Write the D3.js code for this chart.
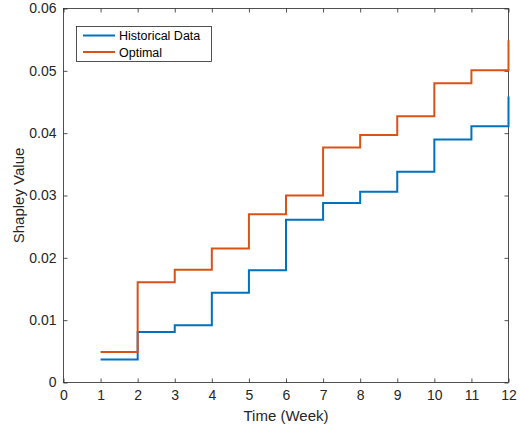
<!DOCTYPE html>
<html>
<head>
<meta charset="utf-8">
<script src="https://cdn.jsdelivr.net/npm/d3@7"></script>
<style>
  html, body { margin: 0; padding: 0; background: #fff; }
  svg { display: block; font-family: "Liberation Sans", Arial, Helvetica, sans-serif; }
</style>
</head>
<body>
<svg id="chart" width="520" height="431"></svg>
<script>
const weeks = [1, 2, 3, 4, 5, 6, 7, 8, 9, 10, 11, 12];
const historical = [0.0037, 0.0081, 0.0092, 0.0144, 0.0180, 0.0261, 0.0288, 0.0306, 0.0338, 0.0390, 0.0411, 0.0459];
const optimal = [0.0049, 0.0161, 0.0181, 0.0215, 0.0270, 0.0300, 0.0377, 0.0397, 0.0427, 0.0480, 0.0501, 0.0549];
const xTicks = [0, 1, 2, 3, 4, 5, 6, 7, 8, 9, 10, 11, 12];
const yTicks = [0, 0.01, 0.02, 0.03, 0.04, 0.05, 0.06];
const seriesNames = ["Historical Data", "Optimal"];
const seriesColors = ["#0072BD", "#D95319"];

(function () {
const svg = d3.select("#chart");
const pLeft = 63.5, pRight = 508.5, pTop = 8.5, pBottom = 382.5;
const x = d3.scaleLinear().domain([0, 12]).range([pLeft, pRight]);
const y = d3.scaleLinear().domain([0, 0.06]).range([pBottom, pTop]);
const axisColor = "#262626";

const gx = svg.append("g").attr("transform", `translate(0,${pBottom})`)
  .call(d3.axisBottom(x).tickValues(xTicks).tickFormat(d3.format("d")).tickSizeInner(-4).tickSizeOuter(0).tickPadding(8));
const gxt = svg.append("g").attr("transform", `translate(0,${pTop})`)
  .call(d3.axisTop(x).tickValues(xTicks).tickFormat("").tickSizeInner(-4).tickSizeOuter(0));
const gy = svg.append("g").attr("transform", `translate(${pLeft},0)`)
  .call(d3.axisLeft(y).tickValues(yTicks).tickFormat(d => d === 0 ? "0" : d3.format(".2f")(d)).tickSizeInner(-4).tickSizeOuter(0).tickPadding(7));
const gyr = svg.append("g").attr("transform", `translate(${pRight},0)`)
  .call(d3.axisRight(y).tickValues(yTicks).tickFormat("").tickSizeInner(-4).tickSizeOuter(0));

[gx, gxt, gy, gyr].forEach(g => {
  g.select(".domain").remove();
  g.selectAll("line").attr("stroke", axisColor).attr("stroke-width", 0.8);
  g.selectAll("text").attr("fill", axisColor).attr("font-size", 14).attr("font-family", "Liberation Sans, Arial, sans-serif");
});

svg.append("rect").attr("x", pLeft).attr("y", pTop).attr("width", pRight - pLeft).attr("height", pBottom - pTop)
  .attr("fill", "none").attr("stroke", axisColor).attr("stroke-width", 0.8);

const line = d3.line().x(d => x(d[0])).y(d => y(d[1])).curve(d3.curveStepAfter);
[historical, optimal].forEach((vals, i) => {
  svg.append("path").datum(weeks.map((w, j) => [w, vals[j]]))
    .attr("d", line).attr("fill", "none").attr("stroke", seriesColors[i]).attr("stroke-width", 2);
});

svg.append("text").attr("x", (pLeft + pRight) / 2).attr("y", 421).attr("text-anchor", "middle")
  .attr("font-size", 15).attr("fill", axisColor).text("Time (Week)");
svg.append("text").attr("transform", `translate(24,${(pTop + pBottom) / 2}) rotate(-90)`).attr("text-anchor", "middle")
  .attr("font-size", 15).attr("fill", axisColor).text("Shapley Value");

const lg = svg.append("g");
lg.append("rect").attr("x", 76.5).attr("y", 26.5).attr("width", 135).attr("height", 35)
  .attr("fill", "#fff").attr("stroke", axisColor).attr("stroke-width", 0.8);
seriesNames.forEach((name, i) => {
  const yy = 35.5 + i * 16.5;
  lg.append("line").attr("x1", 83).attr("x2", 115).attr("y1", yy).attr("y2", yy)
    .attr("stroke", seriesColors[i]).attr("stroke-width", 2);
  lg.append("text").attr("x", 119).attr("y", yy + 4.5).attr("font-size", 12.5).attr("fill", "#000").text(name);
});
})();
</script>
</body>
</html>
